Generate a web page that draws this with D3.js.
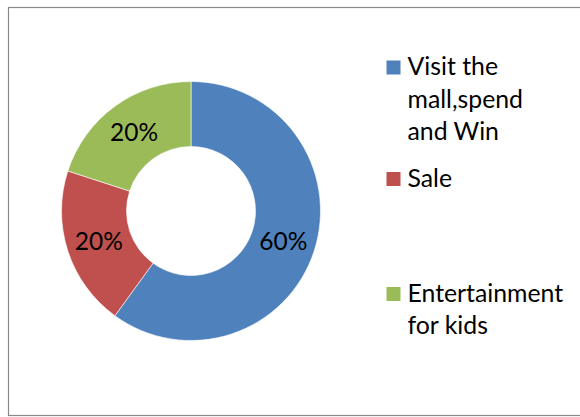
<!DOCTYPE html>
<html>
<head>
<meta charset="utf-8">
<script src="https://cdn.jsdelivr.net/npm/d3@7"></script>
<style>
  html, body { margin: 0; padding: 0; background: #ffffff; }
  svg { display: block; }
  text { font-family: Lato, "Open Sans", sans-serif; fill: #000; }
</style>
</head>
<body>
<svg id="chart" width="580" height="417"></svg>
<script>
// Promotion categories and their shares
const categories = ["Visit the mall,spend and Win", "Sale", "Entertainment for kids"];
const legendLines = [["Visit the", "mall,spend", "and Win"], ["Sale"], ["Entertainment", "for kids"]];
const values = [60, 20, 20];
const colors = ["#4F81BD", "#C0504D", "#9BBB59"];

const svg = d3.select("#chart");

// outer frame
svg.append("rect")
  .attr("x", 8.5).attr("y", 7.5)
  .attr("width", 600).attr("height", 408)
  .attr("fill", "none")
  .attr("stroke", "#898989")
  .attr("stroke-width", 1.2);

const cx = 191, cy = 211;
const outerR = 129.5, innerR = 64.5;

const pie = d3.pie().sort(null).value(d => d)(values);
const arc = d3.arc().innerRadius(innerR).outerRadius(outerR);
const labelArc = d3.arc().innerRadius((innerR + outerR) / 2).outerRadius((innerR + outerR) / 2);

const g = svg.append("g").attr("transform", `translate(${cx},${cy})`);

g.selectAll("path.slice")
  .data(pie)
  .join("path")
  .attr("class", "slice")
  .attr("d", arc)
  .attr("fill", (d, i) => colors[i])
  .attr("stroke", "#ffffff")
  .attr("stroke-width", 0.6);

const total = d3.sum(values);
g.selectAll("text.pct")
  .data(pie)
  .join("text")
  .attr("class", "pct")
  .attr("x", d => labelArc.centroid(d)[0])
  .attr("y", d => labelArc.centroid(d)[1])
  .attr("dy", "0.36em")
  .attr("text-anchor", "middle")
  .style("font-size", "24.5px")
  .text(d => Math.round(d.value / total * 100) + "%");

// legend
const legendX = 386.5;
const entryBaselines = [75, 186.5, 301.5];
const lineStep = 32.5;

const legend = svg.append("g");
legendLines.forEach((lines, i) => {
  const base = entryBaselines[i];
  legend.append("rect")
    .attr("x", legendX).attr("y", base - 14.5)
    .attr("width", 14).attr("height", 14)
    .attr("fill", colors[i]);
  const t = legend.append("text")
    .attr("x", legendX + 21)
    .attr("y", base)
    .style("font-size", "24.8px");
  lines.forEach((ln, j) => {
    t.append("tspan")
      .attr("x", legendX + 21)
      .attr("y", base + j * lineStep)
      .text(ln);
  });
});
</script>
</body>
</html>
